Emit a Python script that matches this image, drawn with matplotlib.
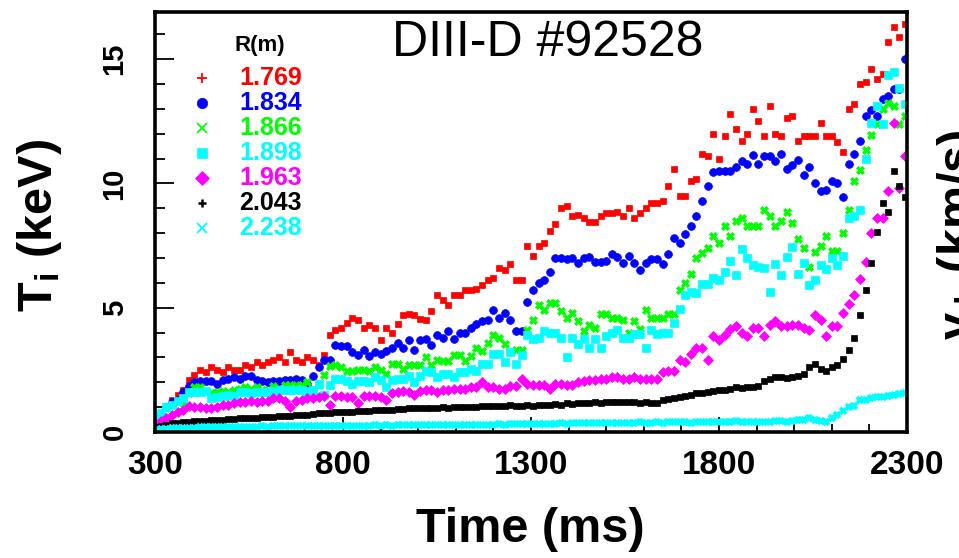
import numpy as np
import matplotlib
matplotlib.use('Agg')
import matplotlib.pyplot as plt
from matplotlib.lines import Line2D
from matplotlib.ticker import MultipleLocator

plt.rcParams['font.family'] = ['Liberation Sans', 'DejaVu Sans']
plt.rcParams['mathtext.fontset'] = 'custom'
plt.rcParams['mathtext.rm'] = 'Liberation Sans'
plt.rcParams['mathtext.bf'] = 'Liberation Sans:bold'
plt.rcParams['mathtext.it'] = 'Liberation Sans:italic'

# Ti profiles, DIII-D shot 92528, one reading every 15 ms
time_ms = np.arange(300, 2300, 15)

radii = ['1.769', '1.834', '1.866', '1.898', '1.963', '2.043', '2.238']

ti_1769 = [0.4, 0.7, 1.0, 1.3, 1.5, 1.7, 2.1, 2.3, 2.5, 2.4,
           2.6, 2.5, 2.4, 2.6, 2.5, 2.5, 2.7, 2.6, 2.8, 2.7,
           2.8, 2.9, 3.0, 2.8, 3.2, 2.9, 2.8, 3.0, 2.9, 2.7,
           3.1, 3.9, 4.1, 4.2, 4.4, 4.6, 4.5, 4.2, 4.3, 4.2,
           3.7, 4.2, 4.0, 4.35, 4.7, 4.75, 4.7, 4.55, 4.5, 4.85,
           5.5, 5.3, 5.1, 5.5, 5.5, 5.7, 5.7, 5.75, 5.9, 6.1,
           6.2, 6.6, 6.5, 6.75, 6.1, 6.1, 7.5, 7.1, 7.5, 7.6,
           8.1, 8.35, 9.0, 9.1, 8.7, 8.75, 8.6, 8.45, 8.45, 8.7,
           8.8, 8.8, 8.85, 8.7, 9.0, 8.6, 8.8, 9.0, 9.2, 9.2,
           9.3, 9.9, 10.6, 9.5, 9.5, 10.1, 10.2, 11.2, 11.1, 12.0,
           11.0, 11.9, 12.8, 12.2, 11.7, 12.0, 13.0, 12.5, 11.9, 13.1,
           12.0, 11.9, 12.65, 12.7, 11.7, 11.9, 11.9, 11.9, 12.45, 11.9,
           11.9, 11.65, 11.25, 13.0, 13.2, 14.0, 14.1, 14.6, 14.2, 14.4,
           15.7, 16.3, 15.9, 16.4]

ti_1834 = [0.5, 0.7, 1.0, 1.2, 1.3, 1.6, 1.85, 2.0, 2.05, 2.05,
           2.05, 1.95, 2.1, 2.15, 2.2, 2.15, 2.25, 2.25, 2.1, 2.05,
           2.0, 2.05, 2.05, 2.1, 2.1, 2.15, 2.1, 1.95, 2.25, 2.6,
           2.9, 2.9, 3.5, 3.45, 3.45, 3.2, 3.1, 3.3, 3.05, 3.2,
           3.15, 3.25, 3.4, 3.6, 3.4, 3.7, 3.3, 3.7, 3.75, 3.5,
           3.9, 3.8, 4.05, 3.75, 4.0, 4.0, 4.2, 4.35, 4.45, 4.5,
           4.9, 4.6, 4.8, 4.5, 4.05, 4.05, 5.25, 5.7, 6.0, 6.1,
           6.45, 7.0, 7.0, 6.95, 7.0, 6.8, 7.0, 7.05, 6.85, 6.85,
           6.9, 7.15, 7.05, 6.8, 7.1, 6.8, 6.5, 6.8, 6.95, 6.95,
           6.75, 7.15, 7.8, 7.6, 7.95, 8.3, 8.7, 9.3, 9.9, 10.45,
           10.5, 10.5, 10.5, 10.65, 10.9, 10.8, 11.15, 10.8, 11.1, 11.1,
           10.9, 11.2, 10.6, 10.75, 10.95, 10.35, 10.65, 10.0, 9.7, 9.75,
           10.1, 10.0, 9.45, 10.8, 11.2, 11.7, 12.7, 12.95, 12.7, 13.4,
           13.5, 13.8, 13.8, 15.0]

ti_1866 = [0.5, 0.7, 0.95, 1.1, 1.2, 1.2, 1.55, 1.8, 1.8, 1.6,
           1.55, 1.6, 1.65, 1.6, 1.7, 1.75, 1.8, 1.75, 1.8, 1.7,
           1.7, 1.85, 1.75, 1.9, 1.9, 1.9, 1.9, 2.0, 1.7, 1.9,
           2.3, 2.65, 2.7, 2.6, 2.45, 2.45, 2.5, 2.5, 2.45, 2.6,
           2.5, 2.35, 2.75, 2.75, 2.55, 2.7, 2.7, 2.7, 3.0, 2.7,
           2.9, 2.85, 2.85, 3.1, 3.1, 2.85, 3.05, 3.4, 3.25, 3.6,
           3.9, 3.8, 3.55, 3.2, 3.3, 3.3, 4.1, 4.5, 5.1, 4.9,
           5.2, 5.2, 4.85, 4.6, 4.8, 4.45, 4.05, 4.3, 4.2, 4.75,
           4.75, 4.6, 4.6, 4.5, 4.0, 4.45, 4.15, 4.9, 4.6, 4.6,
           4.6, 4.75, 4.75, 5.7, 6.0, 6.35, 7.0, 7.2, 7.4, 7.9,
           7.6, 8.3, 7.9, 8.5, 8.6, 8.3, 8.3, 8.3, 8.95, 8.7,
           8.3, 8.5, 8.85, 8.4, 7.75, 7.4, 6.65, 7.25, 7.5, 7.9,
           7.3, 7.3, 8.0, 8.95, 10.1, 10.55, 11.35, 11.95, 12.4, 13.0,
           13.25, 13.1, 12.4, 12.7]

ti_1898 = [0.5, 0.75, 1.0, 1.1, 1.25, 1.35, 1.6, 1.6, 1.6, 1.65,
           1.35, 1.4, 1.45, 1.5, 1.45, 1.6, 1.6, 1.55, 1.6, 1.6,
           1.6, 1.65, 1.7, 1.7, 1.7, 1.7, 1.7, 1.65, 1.7, 1.95,
           1.5, 1.9, 2.15, 2.15, 2.05, 1.95, 2.05, 2.05, 2.0, 2.2,
           2.1, 1.8, 2.1, 2.15, 2.15, 2.25, 2.0, 2.25, 2.45, 2.4,
           2.2, 2.35, 2.35, 2.2, 2.4, 2.4, 2.55, 2.45, 2.75, 2.75,
           3.15, 3.15, 2.8, 3.2, 2.75, 3.1, 3.9, 3.75, 3.8, 4.05,
           4.0, 4.0, 3.8, 3.0, 3.8, 3.55, 3.75, 3.4, 3.75, 3.4,
           3.85, 4.0, 4.1, 3.8, 3.8, 3.95, 3.95, 3.4, 4.1, 3.95,
           4.0, 4.0, 4.4, 4.95, 5.5, 5.65, 5.6, 5.95, 5.95, 6.2,
           6.1, 6.45, 6.9, 6.3, 7.35, 7.0, 6.7, 6.65, 6.6, 5.65,
           6.75, 6.3, 7.05, 7.45, 6.35, 6.8, 5.9, 6.1, 6.7, 6.55,
           7.0, 6.7, 7.1, 8.6, 8.7, 8.95, 11.0, 12.45, 13.1, 12.4,
           14.35, 14.5, 13.85, 13.2]

ti_1963 = [0.35, 0.45, 0.55, 0.7, 0.8, 0.9, 1.05, 1.0, 1.0, 0.95,
           0.95, 1.0, 1.1, 1.1, 1.15, 1.2, 1.2, 1.25, 1.2, 1.25,
           1.25, 1.35, 1.35, 1.25, 1.0, 1.25, 1.3, 1.35, 1.35, 1.4,
           1.45, 1.1, 1.45, 1.45, 1.4, 1.4, 1.15, 1.45, 1.45, 1.45,
           1.4, 1.3, 1.55, 1.6, 1.65, 1.6, 1.5, 1.65, 1.7, 1.7,
           1.6, 1.7, 1.7, 1.75, 1.75, 1.75, 1.8, 1.8, 2.0, 1.8,
           1.8, 1.75, 1.75, 1.85, 1.85, 2.15, 1.95, 1.9, 1.9, 1.9,
           1.75, 1.95, 1.95, 1.9, 1.9, 2.0, 2.05, 2.1, 2.1, 2.15,
           2.15, 2.2, 2.2, 2.15, 2.15, 2.2, 2.15, 2.15, 2.15, 2.15,
           2.4, 2.45, 2.45, 2.9, 2.8, 3.15, 3.4, 3.4, 2.9, 3.85,
           3.7, 3.9, 4.15, 4.25, 4.0, 3.85, 4.2, 4.2, 3.85, 4.3,
           4.45, 4.25, 4.25, 4.3, 4.3, 4.2, 4.1, 4.7, 4.5, 3.85,
           4.25, 4.25, 4.8, 5.15, 5.5, 6.15, 6.85, 8.0, 8.6, 8.6,
           9.7, 12.45, 9.8, 11.1]

ti_2043 = [0.2, 0.25, 0.3, 0.35, 0.38, 0.4, 0.42, 0.45, 0.45, 0.45,
           0.47, 0.5, 0.5, 0.52, 0.52, 0.55, 0.55, 0.55, 0.57, 0.6,
           0.6, 0.62, 0.65, 0.65, 0.66, 0.68, 0.7, 0.68, 0.72, 0.75,
           0.75, 0.78, 0.8, 0.8, 0.82, 0.82, 0.85, 0.85, 0.85, 0.88,
           0.9, 0.9, 0.9, 0.92, 0.92, 0.95, 0.95, 0.95, 0.96, 0.97,
           0.97, 1.0, 0.98, 1.0, 1.0, 1.02, 1.0, 1.02, 1.03, 1.05,
           1.05, 1.03, 1.05, 1.07, 1.06, 1.05, 1.08, 1.05, 1.07, 1.08,
           1.1, 1.12, 1.1, 1.15, 1.13, 1.15, 1.15, 1.18, 1.2, 1.18,
           1.2, 1.22, 1.2, 1.22, 1.2, 1.2, 1.18, 1.2, 1.18, 1.15,
           1.3, 1.33, 1.38, 1.42, 1.45, 1.5, 1.55, 1.58, 1.62, 1.65,
           1.68, 1.7, 1.72, 1.8, 1.78, 1.82, 1.82, 1.85, 2.05, 2.15,
           2.2, 2.2, 2.18, 2.22, 2.25, 2.35, 2.6, 2.75, 2.55, 2.45,
           2.6, 2.7, 2.95, 3.3, 3.8, 4.7, 5.7, 6.8, 8.05, 9.2,
           8.85, 10.5, 9.9, 9.45]

ti_2238 = [0.1, 0.12, 0.14, 0.15, 0.16, 0.17, 0.18, 0.18, 0.19, 0.2,
           0.2, 0.2, 0.21, 0.2, 0.21, 0.22, 0.21, 0.22, 0.22, 0.23,
           0.22, 0.23, 0.23, 0.24, 0.23, 0.24, 0.24, 0.25, 0.24, 0.25,
           0.25, 0.24, 0.25, 0.26, 0.25, 0.26, 0.25, 0.26, 0.26, 0.27,
           0.26, 0.27, 0.26, 0.27, 0.27, 0.28, 0.27, 0.28, 0.28, 0.27,
           0.28, 0.29, 0.28, 0.29, 0.3, 0.29, 0.3, 0.3, 0.29, 0.3,
           0.3, 0.31, 0.3, 0.32, 0.31, 0.33, 0.32, 0.33, 0.34, 0.33,
           0.34, 0.33, 0.35, 0.34, 0.35, 0.36, 0.35, 0.36, 0.35, 0.37,
           0.36, 0.37, 0.38, 0.37, 0.38, 0.37, 0.39, 0.38, 0.38, 0.39,
           0.38, 0.4, 0.39, 0.41, 0.4, 0.38, 0.41, 0.4, 0.42, 0.41,
           0.4, 0.42, 0.41, 0.43, 0.4, 0.42, 0.39, 0.4, 0.42, 0.41,
           0.43, 0.44, 0.42, 0.46, 0.5, 0.48, 0.55, 0.5, 0.46, 0.42,
           0.55, 0.7, 0.85, 1.0, 1.05, 1.28, 1.3, 1.35, 1.4, 1.42,
           1.45, 1.5, 1.52, 1.58]

series = [ti_1769, ti_1834, ti_1866, ti_1898, ti_1963, ti_2043, ti_2238]
colors = ['#ff0000', '#0000ff', '#00ff00', '#00ffff', '#ff00ff', '#000000', '#00ffff']
# marker used for the data points / for the key
data_style = [('s', 4.3, 0), ('o', 5.6, 0), ('X', 5.4, 0), ('s', 5.2, 0),
              ('D', 5.0, 0), ('s', 3.9, 0), ('x', 4.4, 2.6)]
key_style = [('+', 6.5, 1.3), ('o', 7.5, 0), ('x', 6.5, 1.3), ('s', 6.5, 0),
             ('D', 7.5, 0), ('+', 5.5, 1.8), ('x', 6.5, 1.3)]

W, H = 959, 558
fig = plt.figure(figsize=(W / 100, H / 100), dpi=100)
ax = fig.add_axes([155 / W, 1 - 432 / H, (907 - 155) / W, (432 - 12) / H])


def fx(px):
    return px / W


def fy(py):
    return 1 - py / H


for vals, c, (m, ms, mew) in zip(series, colors, data_style):
    ax.plot(time_ms, vals, linestyle='none', marker=m, markersize=ms,
            color=c, markeredgewidth=mew if mew else 0.5)

ax.set_xlim(300, 2300)
ax.set_ylim(0, 16.9)
ax.set_xticks([300, 800, 1300, 1800, 2300])
ax.set_yticks([0, 5, 10, 15])
ax.xaxis.set_minor_locator(MultipleLocator(100))
ax.yaxis.set_minor_locator(MultipleLocator(1))
ax.set_axisbelow(True)

ax.tick_params(axis='x', which='major', direction='in', length=11, width=1.3,
               pad=13, labelsize=24)
ax.tick_params(axis='x', which='minor', direction='in', length=6, width=1.3)
ax.tick_params(axis='y', which='major', direction='in', length=14, width=1.3,
               pad=19, labelsize=21, labelrotation=90)
ax.tick_params(axis='y', which='minor', direction='in', length=7, width=1.3)
for lab in ax.get_xticklabels() + ax.get_yticklabels():
    lab.set_fontweight('bold')
for lab in ax.get_yticklabels():
    lab.set_verticalalignment('center')
for sp in ax.spines.values():
    sp.set_linewidth(2.6)

fig.text(fx(548), fy(43), 'DIII-D #92528', fontsize=36, ha='center', va='center')
fig.text(fx(530), fy(530), 'Time (ms)', fontsize=35, fontweight='bold',
         ha='center', va='center')
fig.text(fx(40), fy(225), r'$\mathbf{T_i}$ (keV)', fontsize=35, fontweight='bold',
         ha='center', va='center', rotation=90)
# y label of the neighbouring panel, cut by the right edge
fig.text(fx(972), fy(235), r'$\mathbf{v_\phi}$ (km/s)', fontsize=35, fontweight='bold',
         ha='center', va='baseline', rotation=90, rotation_mode='anchor')

# key
fig.text(fx(260), fy(45), 'R(m)', fontsize=16, fontweight='bold',
         ha='center', va='center')
for i, (r, c, (m, ms, mew)) in enumerate(zip(radii, colors, key_style)):
    yy = 78 + 25 * i
    fig.add_artist(Line2D([fx(202)], [fy(yy)], marker=m, markersize=ms,
                          markeredgewidth=mew if mew else 0.5, color=c,
                          linestyle='none', transform=fig.transFigure))
    fig.text(fx(239), fy(yy), r, fontsize=18, fontweight='bold', color=c,
             ha='left', va='center')

fig.savefig('out.png', dpi=100)
